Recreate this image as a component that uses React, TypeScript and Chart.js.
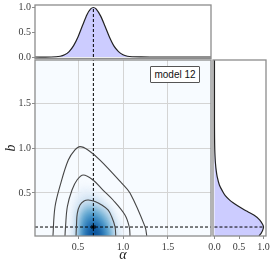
import React, { useEffect, useRef } from 'react';
import { Chart, registerables } from 'chart.js';

Chart.register(...registerables);

// ---- axis ranges / ticks ----
const alphaMin = 0.02;
const alphaMax = 1.98;
const bMin = 0.02;
const bMax = 1.98;
const margMin = -0.03;
const margMax = 1.05;
const mainTicks = [0.5, 1.0, 1.5];
const margTicks = [0.0, 0.5, 1.0];
const alphaBest = 0.67;
const bBest = 0.12;
const peakDensity = 1.0;
const legendLabel = 'model 12';
const xTitle = 'α';
const yTitle = 'b';

// ---- marginal of alpha (top) ----
const alphaGrid = [0.02, 0.2, 0.3, 0.35, 0.4, 0.45, 0.5, 0.55, 0.6, 0.64, 0.67, 0.7, 0.75, 0.8, 0.85, 0.9, 0.95, 1.0, 1.05, 1.1, 1.2, 1.4, 1.98];
const alphaDensity = [0, 0, 0.015, 0.044, 0.11, 0.23, 0.41, 0.64, 0.86, 0.97, 1.0, 0.97, 0.83, 0.62, 0.4, 0.22, 0.11, 0.045, 0.016, 0.005, 0.001, 0, 0];

// ---- marginal of b (right) ----
const bGrid = [0.0, 0.02, 0.05, 0.08, 0.12, 0.15, 0.2, 0.25, 0.29, 0.32, 0.354, 0.39, 0.42, 0.47, 0.513, 0.588, 0.68, 0.75, 0.83, 0.9, 0.98, 1.1, 1.3, 1.98];
const bDensity = [0.9, 0.91, 0.95, 0.98, 1.0, 0.98, 0.92, 0.81, 0.68, 0.58, 0.48, 0.38, 0.31, 0.22, 0.17, 0.1, 0.055, 0.035, 0.02, 0.012, 0.006, 0.002, 0, 0];

// ---- contour lines (alpha, b) ----
const outerAlpha = [0.218, 0.22, 0.243, 0.306, 0.391, 0.465, 0.521, 0.61, 0.744, 0.985, 1.078, 1.245, 1.264, 1.266];
const outerB = [-0.05, 0.02, 0.346, 0.604, 0.866, 0.978, 1.015, 0.978, 0.866, 0.61, 0.499, 0.124, 0.02, -0.05];
const middleAlpha = [0.353, 0.354, 0.36, 0.38, 0.432, 0.488, 0.558, 0.666, 0.777, 0.889, 1.022, 1.07, 1.078, 1.079];
const middleB = [-0.05, 0.02, 0.124, 0.346, 0.532, 0.644, 0.699, 0.644, 0.532, 0.421, 0.254, 0.12, 0.02, -0.05];
const innerAlpha = [0.476, 0.477, 0.482, 0.491, 0.521, 0.566, 0.614, 0.688, 0.763, 0.833, 0.874, 0.911, 0.919, 0.92];
const innerB = [-0.05, 0.02, 0.142, 0.273, 0.365, 0.41, 0.421, 0.404, 0.365, 0.31, 0.235, 0.124, 0.02, -0.05];

// ---- density shading levels (alpha, b) ----
const shade1: number[][] = [[0.4, -0.05], [0.405, 0.2], [0.43, 0.4], [0.49, 0.53], [0.57, 0.58], [0.66, 0.55], [0.78, 0.46], [0.9, 0.32], [0.99, 0.16], [1.02, -0.05]];
const shade2: number[][] = [[0.45, -0.05], [0.455, 0.2], [0.47, 0.35], [0.52, 0.45], [0.6, 0.49], [0.68, 0.47], [0.77, 0.41], [0.86, 0.31], [0.93, 0.17], [0.95, -0.05]];
const shade3: number[][] = [[0.49, -0.05], [0.49, 0.15], [0.5, 0.27], [0.53, 0.36], [0.61, 0.41], [0.69, 0.395], [0.76, 0.355], [0.83, 0.3], [0.875, 0.22], [0.905, 0.1], [0.91, -0.05]];
const shade4: number[][] = [[0.51, -0.05], [0.515, 0.15], [0.53, 0.26], [0.57, 0.33], [0.62, 0.355], [0.69, 0.34], [0.76, 0.3], [0.83, 0.22], [0.87, 0.1], [0.88, -0.05]];
const shade5: number[][] = [[0.53, -0.05], [0.535, 0.12], [0.55, 0.22], [0.59, 0.28], [0.645, 0.3], [0.71, 0.28], [0.77, 0.23], [0.82, 0.15], [0.845, 0.05], [0.85, -0.05]];
const shade6: number[][] = [[0.56, -0.05], [0.565, 0.1], [0.59, 0.18], [0.63, 0.225], [0.685, 0.22], [0.74, 0.18], [0.785, 0.11], [0.81, -0.05]];
const shade7: number[][] = [[0.6, -0.05], [0.61, 0.08], [0.64, 0.14], [0.68, 0.15], [0.72, 0.12], [0.75, 0.06], [0.76, -0.05]];
const shadeLevels = [shade1, shade2, shade3, shade4, shade5, shade6, shade7];
const shadeColors = ['#eaf2fb', '#d6e6f4', '#b7d4ea', '#84bcdb', '#4f9bcb', '#2a78b8', '#0d559c'];

const W = 274;
const H = 268;
const tickFont = { family: 'Liberation Serif', size: 10 };
const tickColor = '#3a3a3a';
const frameColor = '#8c8c8c';

const pts = (xs: number[], ys: number[]) => xs.map((x, i) => ({ x, y: ys[i] }));
const pairs = (p: number[][]) => p.map(([x, y]) => ({ x, y }));

const framePlugin = {
  id: 'frame',
  beforeDraw(chart: any, _a: any, opts: any) {
    const { ctx, chartArea: a } = chart;
    if (opts && opts.bg) {
      ctx.save();
      ctx.fillStyle = opts.bg;
      ctx.fillRect(a.left, a.top, a.right - a.left, a.bottom - a.top);
      ctx.restore();
    }
  },
  beforeDatasetsDraw(chart: any) {
    const { ctx, chartArea: a } = chart;
    chart.data.datasets.forEach((ds: any, i: number) => {
      if (!ds.poly) return;
      const meta = chart.getDatasetMeta(i);
      ctx.save();
      ctx.beginPath();
      ctx.rect(a.left, a.top, a.right - a.left, a.bottom - a.top);
      ctx.clip();
      if (ds.blur) ctx.filter = `blur(${ds.blur}px)`;
      ctx.beginPath();
      meta.data.forEach((p: any, j: number) => (j ? ctx.lineTo(p.x, p.y) : ctx.moveTo(p.x, p.y)));
      ctx.closePath();
      ctx.fillStyle = ds.backgroundColor;
      ctx.fill();
      ctx.restore();
    });
  },
  afterDatasetsDraw(chart: any, _a: any, opts: any) {
    const { ctx, chartArea: a } = chart;
    ctx.save();
    ctx.strokeStyle = (opts && opts.color) || frameColor;
    ctx.lineWidth = (opts && opts.width) || 1.2;
    ctx.strokeRect(a.left, a.top, a.right - a.left, a.bottom - a.top);
    ctx.restore();
  },
};

const fixTicks = (vals: number[]) => (scale: any) => {
  scale.ticks = vals.map((v) => ({ value: v }));
};
const fixSize = (prop: 'width' | 'height', size: number) => (scale: any) => {
  scale[prop] = size;
  scale.paddingLeft = 0;
  scale.paddingRight = 0;
  scale.paddingTop = 0;
  scale.paddingBottom = 0;
};
const fmt = (v: any) => Number(v).toFixed(1);

const dashed = (data: any[]) => ({
  data,
  showLine: true,
  borderColor: '#000',
  borderWidth: 1,
  borderDash: [3, 2],
  pointRadius: 0,
  fill: false,
});

const baseOptions = {
  responsive: false,
  animation: false as const,
  events: [] as any[],
  plugins: { legend: { display: false }, tooltip: { enabled: false } },
};

export default function App() {
  const mainRef = useRef<HTMLCanvasElement>(null);
  const topRef = useRef<HTMLCanvasElement>(null);
  const rightRef = useRef<HTMLCanvasElement>(null);

  useEffect(() => {
    const charts: Chart[] = [];

    // ---------- main 2D panel ----------
    const shadeSets = shadeLevels.map((lvl, i) => ({
      data: pairs(lvl),
      poly: true,
      blur: 3,
      backgroundColor: shadeColors[i],
      showLine: false,
      pointRadius: 0,
    }));
    const contour = (xs: number[], ys: number[]) => ({
      data: pts(xs, ys),
      showLine: true,
      borderColor: '#454545',
      borderWidth: 1.1,
      pointRadius: 0,
      tension: 0.35,
      fill: false,
    });
    charts.push(
      new Chart(mainRef.current!, {
        type: 'scatter',
        data: {
          datasets: [
            ...shadeSets,
            contour(outerAlpha, outerB),
            contour(middleAlpha, middleB),
            contour(innerAlpha, innerB),
            dashed([{ x: alphaBest, y: bMin }, { x: alphaBest, y: bMax }]),
            dashed([{ x: alphaMin, y: bBest }, { x: alphaMax, y: bBest }]),
            {
              data: [{ x: alphaBest, y: bBest }],
              pointStyle: 'star',
              pointRadius: 2.5,
              borderColor: '#000',
              borderWidth: 1,
              backgroundColor: '#000',
            },
          ] as any,
        },
        options: {
          ...baseOptions,
          layout: { padding: { left: 0, top: 60, right: W - 211, bottom: 0 } },
          scales: {
            x: {
              type: 'linear',
              min: alphaMin,
              max: alphaMax,
              afterBuildTicks: fixTicks(mainTicks),
              afterFit: fixSize('height', H - 236),
              ticks: { callback: fmt, font: tickFont, color: tickColor, padding: 2, maxRotation: 0 },
              grid: { color: '#d4d4d4', lineWidth: 1, tickLength: 3, tickColor: frameColor },
              border: { display: false },
              title: { display: true, text: xTitle, font: { family: 'Liberation Serif', size: 14, style: 'italic' }, color: '#222', padding: { top: 0, bottom: 4 } },
            },
            y: {
              type: 'linear',
              min: bMin,
              max: bMax,
              afterBuildTicks: fixTicks(mainTicks),
              afterFit: fixSize('width', 35),
              ticks: { callback: fmt, font: tickFont, color: tickColor, padding: 1 },
              grid: { color: '#d4d4d4', lineWidth: 1, tickLength: 3, tickColor: frameColor },
              border: { display: false },
              title: { display: true, text: yTitle, font: { family: 'Liberation Serif', size: 14, style: 'italic' }, color: '#222', padding: { top: 3, bottom: 0 } },
            },
          },
          plugins: { ...baseOptions.plugins, frame: { bg: '#f7fbff', color: frameColor, width: 1.3 } } as any,
        },
        plugins: [framePlugin],
      } as any)
    );

    // ---------- top marginal (alpha) ----------
    const alphaPts = pts(alphaGrid, alphaDensity);
    charts.push(
      new Chart(topRef.current!, {
        type: 'scatter',
        data: {
          datasets: [
            { data: [{ x: alphaGrid[0], y: 0 }, ...alphaPts, { x: alphaGrid[alphaGrid.length - 1], y: 0 }], poly: true, backgroundColor: '#ccccff', showLine: false, pointRadius: 0 },
            { data: alphaPts, showLine: true, borderColor: '#222', borderWidth: 1.2, pointRadius: 0, tension: 0.3, fill: false },
            dashed([{ x: alphaBest, y: 0 }, { x: alphaBest, y: peakDensity }]),
          ] as any,
        },
        options: {
          ...baseOptions,
          layout: { padding: { left: 0, top: 5, right: W - 211, bottom: H - 58.5 } },
          scales: {
            x: { type: 'linear', min: alphaMin, max: alphaMax, display: false },
            y: {
              type: 'linear',
              min: margMin,
              max: margMax,
              afterBuildTicks: fixTicks(margTicks),
              afterFit: fixSize('width', 35),
              ticks: { callback: fmt, font: tickFont, color: tickColor, padding: 1 },
              grid: { drawOnChartArea: false, tickLength: 3, tickColor: frameColor },
              border: { display: false },
            },
          },
          plugins: { ...baseOptions.plugins, frame: { color: frameColor, width: 1.3 } } as any,
        },
        plugins: [framePlugin],
      } as any)
    );

    // ---------- right marginal (b) ----------
    const bPts = bGrid.map((b, i) => ({ x: bDensity[i], y: b }));
    charts.push(
      new Chart(rightRef.current!, {
        type: 'scatter',
        data: {
          datasets: [
            { data: [{ x: 0, y: bGrid[0] }, ...bPts, { x: 0, y: bGrid[bGrid.length - 1] }], poly: true, backgroundColor: '#ccccff', showLine: false, pointRadius: 0 },
            { data: bPts, showLine: true, borderColor: '#222', borderWidth: 1.2, pointRadius: 0, tension: 0.3, fill: false },
            dashed([{ x: 0, y: bBest }, { x: peakDensity, y: bBest }]),
          ] as any,
        },
        options: {
          ...baseOptions,
          layout: { padding: { left: 213, top: 60, right: W - 266, bottom: 0 } },
          scales: {
            x: {
              type: 'linear',
              min: margMin,
              max: margMax,
              afterBuildTicks: fixTicks(margTicks),
              afterFit: fixSize('height', H - 236),
              ticks: { callback: fmt, font: tickFont, color: tickColor, padding: 2, maxRotation: 0 },
              grid: { drawOnChartArea: false, tickLength: 3, tickColor: frameColor },
              border: { display: false },
            },
            y: { type: 'linear', min: bMin, max: bMax, display: false },
          },
          plugins: { ...baseOptions.plugins, frame: { color: frameColor, width: 1.3 } } as any,
        },
        plugins: [framePlugin],
      } as any)
    );

    return () => charts.forEach((c) => c.destroy());
  }, []);

  const canvasStyle: React.CSSProperties = { position: 'absolute', left: 0, top: 0 };
  return (
    <div style={{ position: 'fixed', left: 0, top: 0, width: W, height: H, background: '#fff' }}>
      <canvas ref={mainRef} width={W} height={H} style={canvasStyle} />
      <canvas ref={topRef} width={W} height={H} style={canvasStyle} />
      <canvas ref={rightRef} width={W} height={H} style={canvasStyle} />
      <div
        style={{
          position: 'absolute',
          left: 150,
          top: 66,
          width: 50,
          height: 17,
          boxSizing: 'border-box',
          border: '1px solid #555',
          borderRadius: 1,
          background: '#fff',
          fontFamily: 'Liberation Sans',
          fontSize: 10,
          lineHeight: '15px',
          textAlign: 'center',
          color: '#111',
        }}
      >
        {legendLabel}
      </div>
    </div>
  );
}
